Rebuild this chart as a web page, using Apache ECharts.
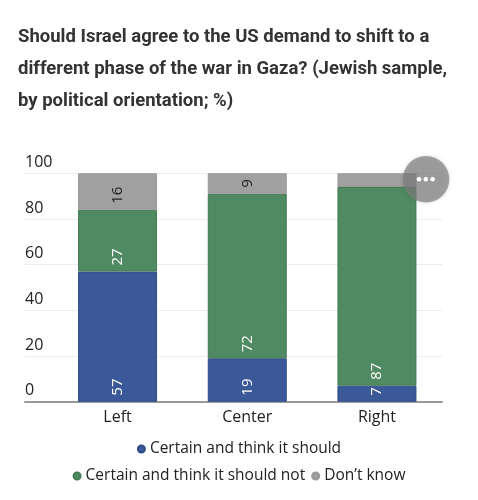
<!DOCTYPE html>
<html><head><meta charset="utf-8">
<script src="https://cdn.jsdelivr.net/npm/echarts@6/dist/echarts.min.js"></script>
<style>html,body{margin:0;padding:0;background:#fff}#c{width:478px;height:500px}</style>
</head><body><div id="c"></div>
<script>
const categories = ['Left', 'Center', 'Right'];
const seriesNames = ['Certain and think it should', 'Certain and think it should not', 'Don\u2019t know'];
const shouldVals = [57, 19, 7];
const shouldNotVals = [27, 72, 87];
const dontKnowVals = [16, 9, 6];
const dontKnowLabels = ['16', '9', ''];
const yTicks = [0, 20, 40, 60, 80, 100];

const colors = ['#3b5998', '#4f8a62', '#a0a0a0'];
const borders = ['#2f4c88', '#447a55', '#999999'];
const font = '"Open Sans", sans-serif';

const chart = echarts.init(document.getElementById('c'), null, {renderer: 'canvas'});
const gTop = 173.3, gBottom = 500 - 401.7;

function mkSeries(idx, vals, labels, labelColor) {
  return {
    name: seriesNames[idx], type: 'bar', stack: 's', xAxisIndex: 1, yAxisIndex: 1,
    barWidth: 79,
    data: vals,
    itemStyle: {color: colors[idx], borderColor: borders[idx], borderWidth: 1},
    label: {
      show: true, position: 'insideBottom', rotate: 90, distance: 6,
      align: 'left', verticalAlign: 'middle',
      color: labelColor, fontFamily: font, fontSize: 15,
      formatter: p => labels ? labels[p.dataIndex] : String(p.value)
    },
    emphasis: {disabled: true}
  };
}

const legendCommon = {
  left: 'center', icon: 'circle', itemWidth: 7, itemHeight: 7, itemGap: 6, padding: 0,
  textStyle: {fontFamily: font, fontSize: 15.5, color: '#222'}
};

chart.setOption({
  animation: false,
  title: {
    text: 'Should Israel agree to the US demand to shift to a\ndifferent phase of the war in Gaza? (Jewish sample,\nby political orientation; %)',
    left: 18, top: 22, padding: 0,
    textStyle: {fontFamily: 'Roboto, sans-serif', fontWeight: 'bold', fontSize: 18.5, color: '#333', lineHeight: 31.7}
  },
  legend: [
    Object.assign({data: [seriesNames[0]], top: 441}, legendCommon),
    Object.assign({data: [seriesNames[1], seriesNames[2]], top: 468}, legendCommon)
  ],
  grid: [
    {left: 25, right: 36, top: gTop, bottom: gBottom},
    {left: 52.7, right: 36.2, top: gTop, bottom: gBottom}
  ],
  xAxis: [
    {gridIndex: 0, type: 'value', min: 0, max: 1, show: true,
     axisLine: {show: true, onZero: false, lineStyle: {color: '#999', width: 2}},
     axisTick: {show: false}, axisLabel: {show: false}, splitLine: {show: false}},
    {gridIndex: 1, type: 'category', data: categories,
     axisLine: {show: false}, axisTick: {show: false},
     axisLabel: {fontFamily: font, fontSize: 16, color: '#222', margin: 8}}
  ],
  yAxis: [
    {gridIndex: 0, type: 'value', min: 0, max: 100, interval: 20,
     axisLine: {show: false}, axisTick: {show: false},
     axisLabel: {inside: true, margin: 0, align: 'left', verticalAlign: 'bottom',
       fontFamily: font, fontSize: 16, color: '#222', padding: [0, 0, 3, 0],
       formatter: v => yTicks.includes(v) ? String(v) : ''},
     splitLine: {lineStyle: {color: '#ececec', width: 1}}},
    {gridIndex: 1, type: 'value', min: 0, max: 100, interval: 20, show: false}
  ],
  series: [
    mkSeries(0, shouldVals, null, '#fff'),
    mkSeries(1, shouldNotVals, null, '#fff'),
    mkSeries(2, dontKnowVals, dontKnowLabels, '#222')
  ],
  graphic: [
    {type: 'circle', shape: {cx: 426, cy: 179.3, r: 23.3}, z: 100,
     style: {fill: 'rgba(125,125,125,0.7)', shadowBlur: 4, shadowColor: 'rgba(0,0,0,0.2)'}},
    {type: 'circle', shape: {cx: 419, cy: 179.3, r: 2.3}, z: 101, style: {fill: '#fff'}},
    {type: 'circle', shape: {cx: 425.8, cy: 179.3, r: 2.3}, z: 101, style: {fill: '#fff'}},
    {type: 'circle', shape: {cx: 432.6, cy: 179.3, r: 2.3}, z: 101, style: {fill: '#fff'}}
  ]
});
</script></body></html>
